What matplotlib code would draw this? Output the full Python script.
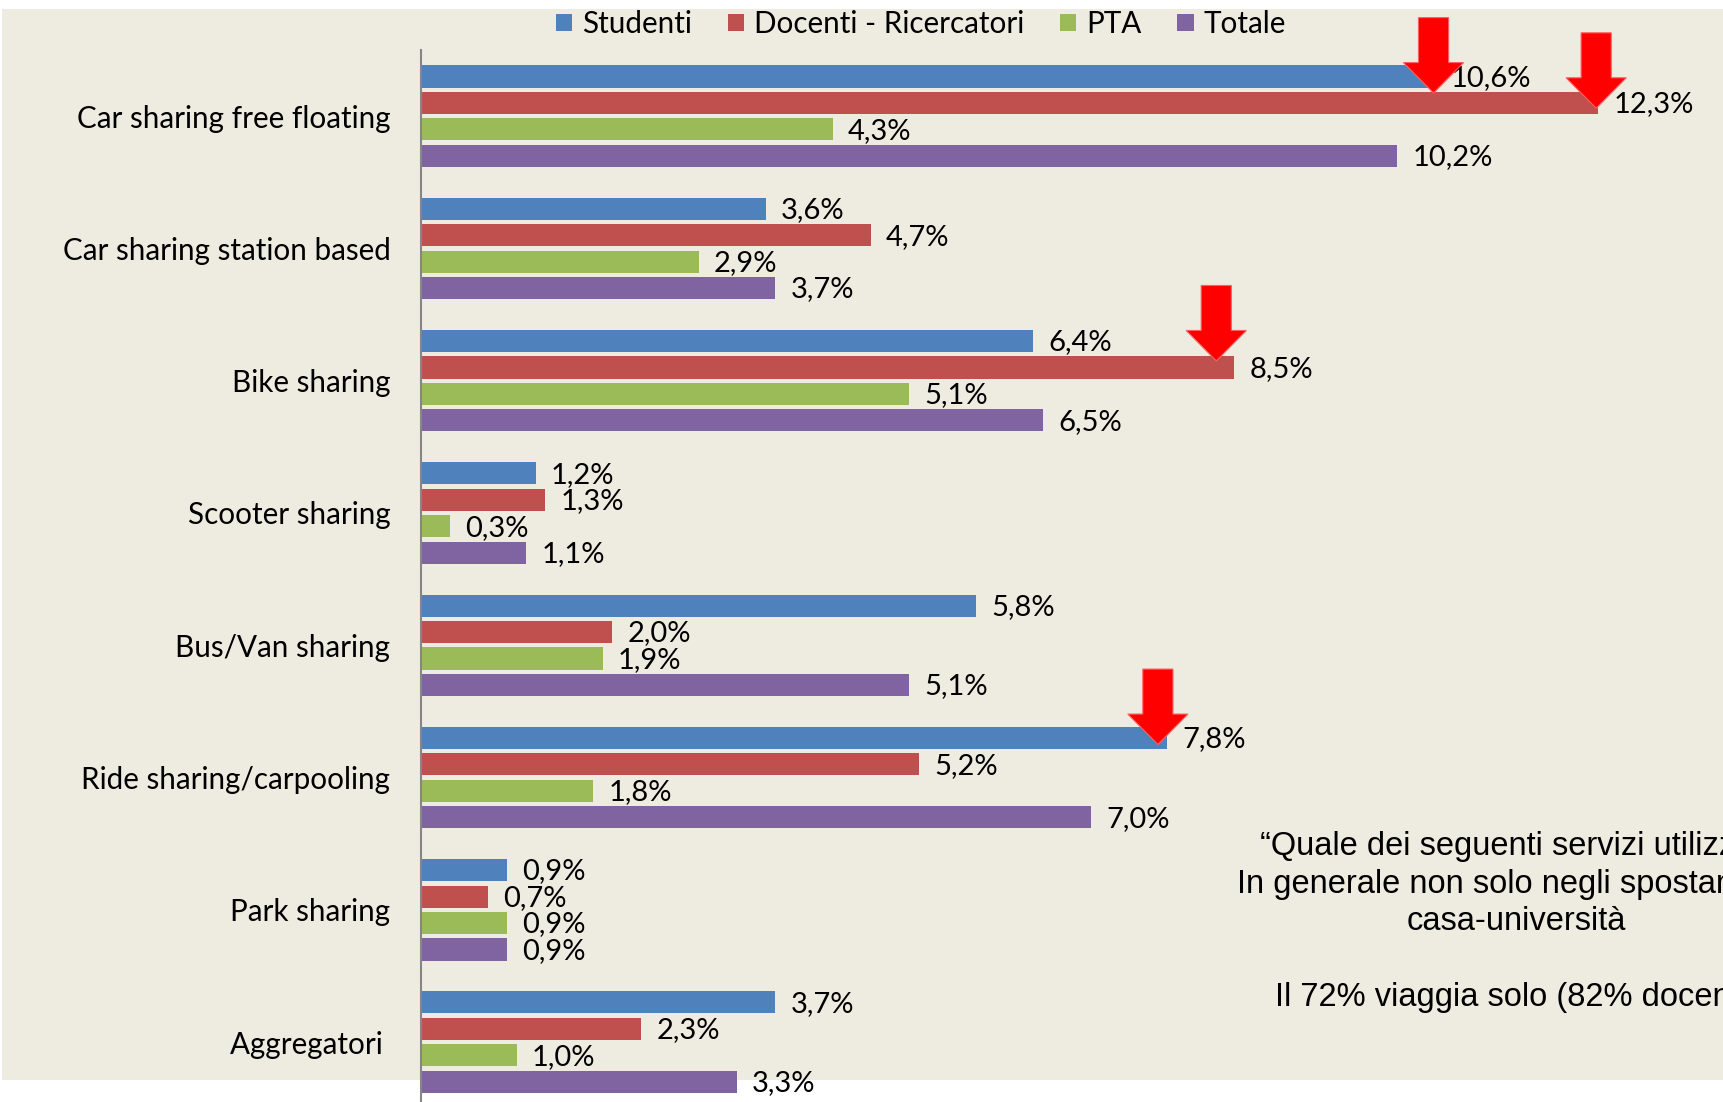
import matplotlib.pyplot as plt
from matplotlib.patches import Rectangle, Patch, FancyArrow

categories = ['Car sharing free floating', 'Car sharing station based',
              'Bike sharing', 'Scooter sharing', 'Bus/Van sharing',
              'Ride sharing/carpooling', 'Park sharing', 'Aggregatori ']
series_names = ['Studenti', 'Docenti - Ricercatori', 'PTA', 'Totale']
studenti = [10.6, 3.6, 6.4, 1.2, 5.8, 7.8, 0.9, 3.7]
docenti = [12.3, 4.7, 8.5, 1.3, 2.0, 5.2, 0.7, 2.3]
pta = [4.3, 2.9, 5.1, 0.3, 1.9, 1.8, 0.9, 1.0]
totale = [10.2, 3.7, 6.5, 1.1, 5.1, 7.0, 0.9, 3.3]
colors = ['#4F81BD', '#C0504D', '#9BBB59', '#8064A2']

# highlighted bars: (series index, category index, tip nudge x, tip nudge y)
highlights = [(0, 0, -0.02, 0.125), (1, 0, -0.02, 0.04),
              (1, 2, -0.19, -0.05), (0, 5, -0.1, 0.05)]

note = ('\u201cQuale dei seguenti servizi utilizzi?\u201d\n'
        'In generale non solo negli spostamenti\n'
        'casa-universit\u00e0\n\n'
        'Il 72% viaggia solo (82% docenti)')

W, H = 1723, 1102
fig = plt.figure(figsize=(W / 100, H / 100), dpi=100)
fig.patch.set_facecolor('white')
fig.patches.append(Rectangle((2 / W, 1 - 1080 / H), 1 - 2 / W, (1080 - 9) / H,
                             transform=fig.transFigure, facecolor='#EEECE1',
                             edgecolor='none', zorder=-5))

ax = fig.add_axes([421 / W, 0, 1 - 421 / W, (H - 50) / H])
ax.set_facecolor('none')
ax.set_xlim(0, (W - 421) / 95.7)
ax.set_ylim((H - 116) / 132.3, -0.5)

label_font = 'Lato'
all_series = [studenti, docenti, pta, totale]
slot = 0.2
bar_h = 0.167
for s, vals in enumerate(all_series):
    ys = [i + (s - 1.5) * slot for i in range(len(categories))]
    ax.barh(ys, vals, height=bar_h, color=colors[s], zorder=2)
    for y, v in zip(ys, vals):
        ax.annotate(f'{v:.1f}%'.replace('.', ','), xy=(v, y),
                    xytext=(11, -1), textcoords='offset points',
                    va='center', ha='left', fontsize=21,
                    family=label_font, color='black', zorder=4)

# red arrows over highlighted bars
for s, c, nx, ny in highlights:
    x_tip = all_series[s][c] + nx
    y_tip = c + (s - 1.5) * slot + ny
    length = 0.57
    ax.add_patch(FancyArrow(x_tip, y_tip - length, 0, length, width=0.315,
                            head_width=0.63, head_length=0.23,
                            length_includes_head=True, facecolor='#FF0000',
                            edgecolor='#FF6060', linewidth=0.8, zorder=5,
                            clip_on=False))

ax.set_yticks(range(len(categories)))
ax.set_yticklabels(categories, fontsize=21.3, family=label_font)
ax.tick_params(axis='y', length=0, pad=22)
ax.set_xticks([])
for side in ['top', 'right', 'bottom']:
    ax.spines[side].set_visible(False)
ax.spines['left'].set_color('#868686')
ax.spines['left'].set_linewidth(1.5)

handles = [Patch(facecolor=c, edgecolor='none') for c in colors]
fig.legend(handles, series_names, loc='center', ncol=4, frameon=False,
           bbox_to_anchor=(921 / W, 1 - 24 / H),
           prop={'family': label_font, 'size': 21.3},
           handlelength=0.55, handleheight=0.55, handletextpad=0.35,
           columnspacing=1.2)

fig.text(1516 / W, 1 - 831 / H, note, ha='center', va='top',
         fontsize=23.5, family='Liberation Sans', linespacing=1.28)

fig.savefig('out.png', dpi=100)
